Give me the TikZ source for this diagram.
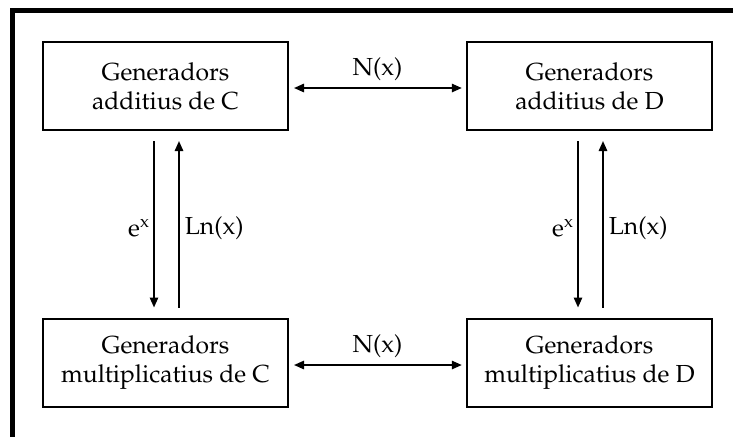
\documentclass[tikz,border=0pt]{standalone}
\usepackage[T1]{fontenc}
\renewcommand{\rmdefault}{ppl}
\usetikzlibrary{arrows.meta}
\begin{document}
\begin{tikzpicture}[x=0.6pt,y=-0.6pt,
  gbox/.style={draw,line width=1.2pt,minimum width=147pt,minimum height=52.8pt,align=center,inner sep=0pt,font=\fontsize{14.8}{17.4}\selectfont},
  conn/.style={line width=1.1pt,-{Triangle[length=6pt,width=5pt]}},
  dconn/.style={line width=1.1pt,{Triangle[length=6pt,width=5pt]}-{Triangle[length=6pt,width=5pt]}},
  lab/.style={font=\fontsize{14.8}{17.4}\selectfont,inner sep=1pt}]
\useasboundingbox (0,0) rectangle (733,436);
\draw[line width=3pt,line join=miter] (12.5,440) -- (12.5,10.5) -- (740,10.5);
\node[gbox] (tl) at (165.5,86) {Generadors\\additius de C};
\node[gbox] (tr) at (589.5,86) {Generadors\\additius de D};
\node[gbox] (bl) at (165.5,362.5) {Generadors\\multiplicatius de C\hspace{8pt}};
\node[gbox] (br) at (589.5,362.5) {Generadors\\multiplicatius de D\hspace{8pt}};
\draw[dconn,shorten <=3pt,shorten >=2.5pt] ([yshift=-1.2pt]tl.east) -- node[lab,above=3pt] {N(x)} ([yshift=-1.2pt]tr.west);
\draw[dconn,shorten <=3pt,shorten >=2.5pt] ([yshift=-1.5pt]bl.east) -- node[lab,above=3pt] {N(x)} ([yshift=-1.5pt]br.west);
\draw[conn,shorten <=6pt,shorten >=6pt] ([xshift=-6.9pt]tl.south) -- node[lab,left=1pt,pos=0.52] {e\textsuperscript{x}} ([xshift=-6.9pt]bl.north);
\draw[conn,shorten <=6pt,shorten >=6pt] ([xshift=8.1pt]bl.north) -- node[lab,right=2pt,pos=0.48] {Ln(x)} ([xshift=8.1pt]tl.south);
\draw[conn,shorten <=6pt,shorten >=6pt] ([xshift=-6.9pt]tr.south) -- node[lab,left=1pt,pos=0.52] {e\textsuperscript{x}} ([xshift=-6.9pt]br.north);
\draw[conn,shorten <=6pt,shorten >=6pt] ([xshift=8.1pt]br.north) -- node[lab,right=2pt,pos=0.48] {Ln(x)} ([xshift=8.1pt]tr.south);
\end{tikzpicture}
\end{document}
